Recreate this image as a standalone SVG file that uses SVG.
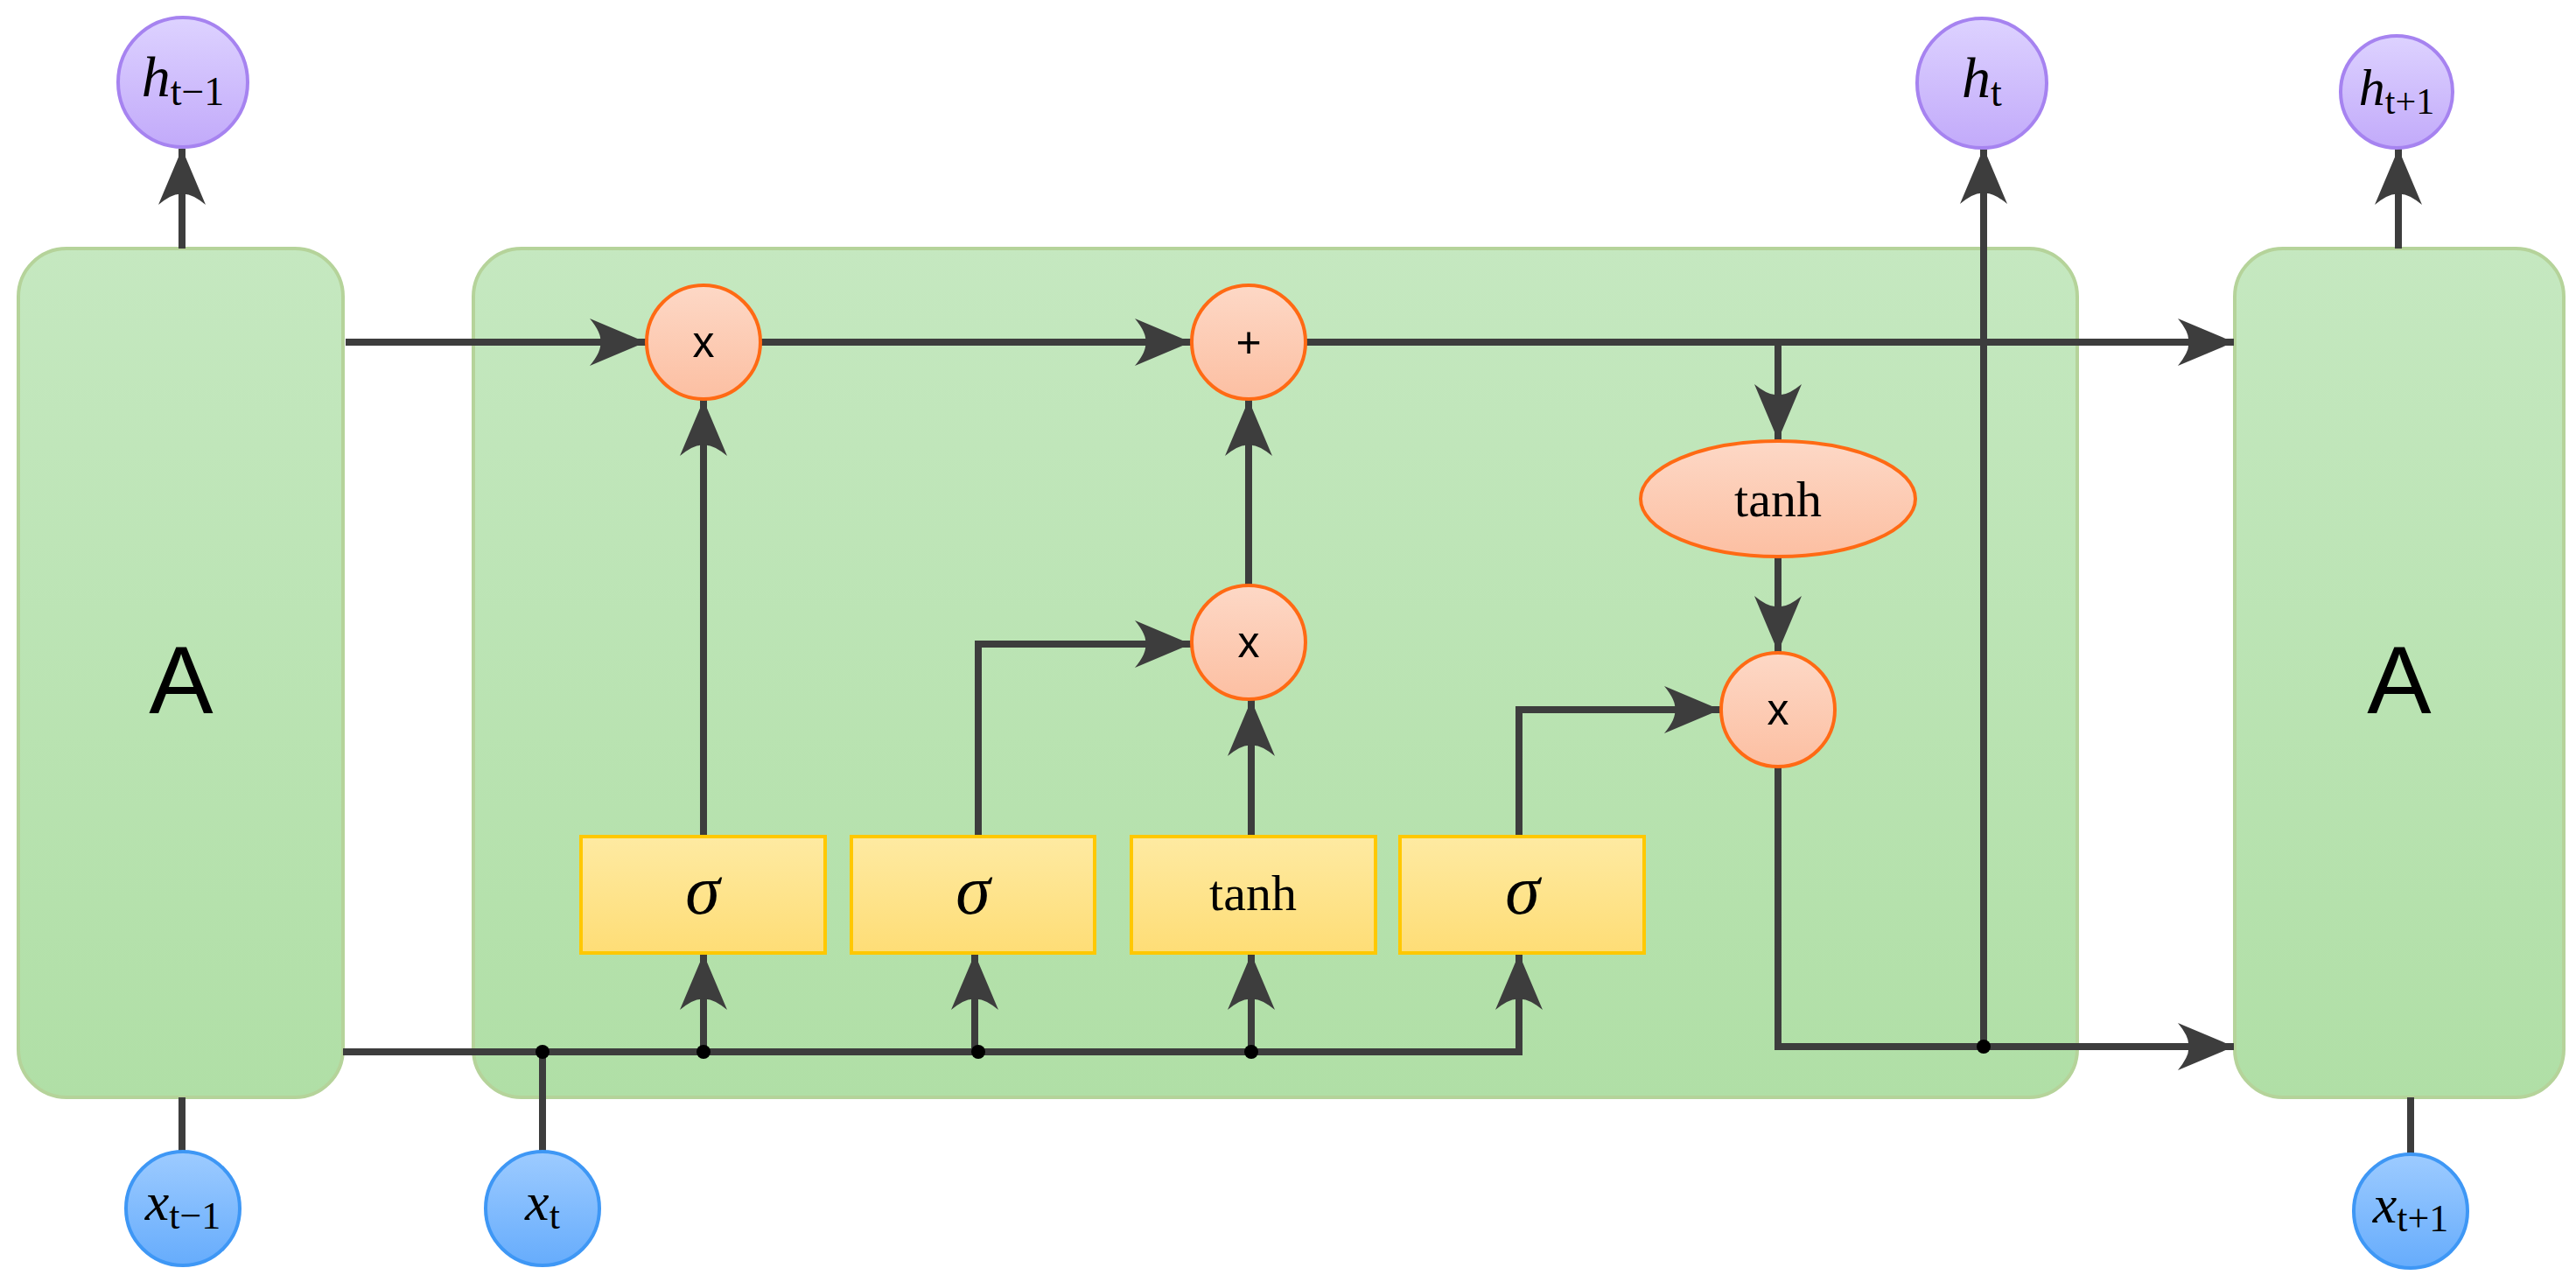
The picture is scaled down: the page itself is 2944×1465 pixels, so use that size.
<svg xmlns="http://www.w3.org/2000/svg" width="2944" height="1465" viewBox="0 0 2944 1465">
<style>
.c{fill:none;stroke:#3d3d3d;stroke-width:8}
.ar{marker-end:url(#ah)}
.box{fill:url(#gG);stroke:#b5d39a;stroke-width:4}
.op{fill:url(#gO);stroke:#ff6a14;stroke-width:4}
.gt{fill:url(#gY);stroke:#ffc800;stroke-width:4}
.hp{fill:url(#gP);stroke:#a683f0;stroke-width:4}
.xb{fill:url(#gB);stroke:#3e97f5;stroke-width:4}
.s{font-family:"Liberation Sans",Arial,sans-serif;text-anchor:middle}
.t{font-family:"Liberation Serif","Times New Roman",serif;text-anchor:middle}
</style>
<defs>
<linearGradient id="gG" x1="0" y1="0" x2="0" y2="1"><stop offset="0" stop-color="#c5e8c0"/><stop offset="1" stop-color="#b0dfa6"/></linearGradient>
<linearGradient id="gO" x1="0" y1="0" x2="0" y2="1"><stop offset="0" stop-color="#fdd8c6"/><stop offset="1" stop-color="#fcbfa2"/></linearGradient>
<linearGradient id="gY" x1="0" y1="0" x2="0" y2="1"><stop offset="0" stop-color="#feeaa2"/><stop offset="1" stop-color="#fedd76"/></linearGradient>
<linearGradient id="gP" x1="0" y1="0" x2="0" y2="1"><stop offset="0" stop-color="#ddd2ff"/><stop offset="1" stop-color="#c2aafa"/></linearGradient>
<linearGradient id="gB" x1="0" y1="0" x2="0" y2="1"><stop offset="0" stop-color="#9dcbff"/><stop offset="1" stop-color="#66acfc"/></linearGradient>
<marker id="ah" markerUnits="userSpaceOnUse" markerWidth="80" markerHeight="80" viewBox="-70 -40 80 80" refX="0" refY="0" orient="auto" overflow="visible">
<path d="M0,0 L-64,-27 Q-50,-10 -52,0 Q-50,10 -64,27 Z" fill="#3d3d3d"/>
</marker>
</defs>
<g id="boxA1"><rect class="box" x="21" y="284" width="371" height="970" rx="55"/><text class="s" x="207" y="815" font-size="110">A</text></g>
<g id="cell"><rect class="box" x="541" y="284" width="1833" height="970" rx="55"/></g>
<g id="boxA2"><rect class="box" x="2554" y="284" width="376" height="970" rx="55"/><text class="s" x="2742" y="815" font-size="110">A</text></g>

<g id="connectors">
<path class="c ar" d="M208,284 V170"/>
<path class="c ar" d="M2741,284 V170"/>
<path class="c" d="M208,1254 V1316"/>
<path class="c" d="M2755,1254 V1319"/>
<path class="c ar" d="M395,391 H738"/>
<path class="c ar" d="M869,391 H1361"/>
<path class="c ar" d="M1492,391 H2553"/>
<path class="c ar" d="M2032,391 V503"/>
<path class="c ar" d="M2032,637 V745"/>
<path class="c ar" d="M2032,876 V1196 H2553"/>
<path class="c ar" d="M2267,1196 V169"/>
<path class="c" d="M392,1202 H1736 V1160"/>
<path class="c" d="M620,1202 V1316"/>
<path class="c ar" d="M804,1202 V1090"/>
<path class="c ar" d="M1114,1202 V1090"/>
<path class="c ar" d="M1430,1202 V1090"/>
<path class="c ar" d="M1736,1170 V1090"/>
<path class="c ar" d="M804,954 V457"/>
<path class="c ar" d="M1118,954 V736 H1361"/>
<path class="c ar" d="M1430,954 V800"/>
<path class="c ar" d="M1427,669 V457"/>
<path class="c ar" d="M1736,954 V811 H1966"/>
<g fill="#000"><circle cx="620" cy="1202" r="8"/><circle cx="804" cy="1202" r="8"/><circle cx="1118" cy="1202" r="8"/><circle cx="1430" cy="1202" r="8"/><circle cx="2267" cy="1196" r="8"/></g>
</g>

<g id="mul1"><circle class="op" cx="804" cy="391" r="65"/><text class="s" x="804" y="408" font-size="50">x</text></g>
<g id="plus"><circle class="op" cx="1427" cy="391" r="65"/><text class="s" x="1427" y="408" font-size="50">+</text></g>
<g id="mul2"><circle class="op" cx="1427" cy="734" r="65"/><text class="s" x="1427" y="751" font-size="50">x</text></g>
<g id="mul3"><circle class="op" cx="2032" cy="811" r="65"/><text class="s" x="2032" y="828" font-size="50">x</text></g>
<g id="tanhO"><ellipse class="op" cx="2032" cy="570" rx="157" ry="66"/><text class="t" x="2032" y="590" font-size="58">tanh</text></g>

<g id="g1"><rect class="gt" x="664" y="956" width="279" height="133"/><text class="t" x="803" y="1044" font-size="80" font-style="italic">σ</text></g>
<g id="g2"><rect class="gt" x="973" y="956" width="278" height="133"/><text class="t" x="1112" y="1044" font-size="80" font-style="italic">σ</text></g>
<g id="g3"><rect class="gt" x="1293" y="956" width="279" height="133"/><text class="t" x="1432" y="1040" font-size="58">tanh</text></g>
<g id="g4"><rect class="gt" x="1600" y="956" width="279" height="133"/><text class="t" x="1740" y="1044" font-size="80" font-style="italic">σ</text></g>

<g id="h0"><circle class="hp" cx="209" cy="94" r="74"/><text class="t" x="209" y="110" font-size="66"><tspan font-style="italic">h</tspan><tspan font-size="46" dy="10">t−1</tspan></text></g>
<g id="h1"><circle class="hp" cx="2265" cy="95" r="74"/><text class="t" x="2265" y="111" font-size="66"><tspan font-style="italic">h</tspan><tspan font-size="46" dy="10">t</tspan></text></g>
<g id="h2"><circle class="hp" cx="2739" cy="105" r="64"/><text class="t" x="2739" y="120" font-size="60"><tspan font-style="italic">h</tspan><tspan font-size="42" dy="10">t+1</tspan></text></g>
<g id="x0"><circle class="xb" cx="209" cy="1381" r="65"/><text class="t" x="209" y="1394" font-size="62"><tspan font-style="italic">x</tspan><tspan font-size="44" dy="10">t−1</tspan></text></g>
<g id="x1"><circle class="xb" cx="620" cy="1381" r="65"/><text class="t" x="620" y="1394" font-size="62"><tspan font-style="italic">x</tspan><tspan font-size="44" dy="10">t</tspan></text></g>
<g id="x2"><circle class="xb" cx="2755" cy="1384" r="65"/><text class="t" x="2755" y="1397" font-size="62"><tspan font-style="italic">x</tspan><tspan font-size="44" dy="10">t+1</tspan></text></g>
</svg>
